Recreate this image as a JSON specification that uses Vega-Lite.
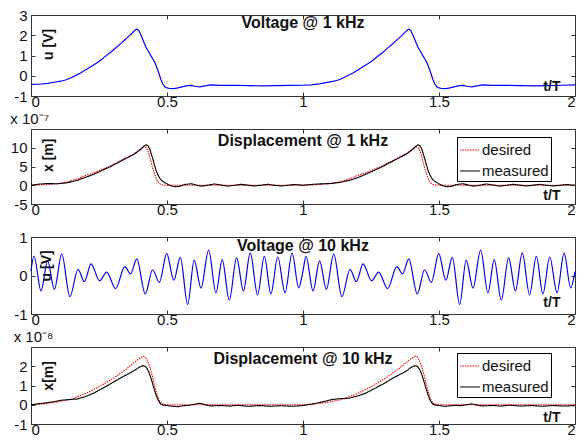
{
  "$schema": "https://vega.github.io/schema/vega-lite/v6.json",
  "padding": {"left": 9, "top": 7, "right": 2, "bottom": 2},
  "background": "#ffffff",
  "config": {
    "view": {"stroke": "#333333", "strokeWidth": 1},
    "font": "Liberation Sans",
    "axis": {"grid": false, "domain": false, "labelFont": "Liberation Sans", "labelFontSize": 15, "labelColor": "#111111", "tickColor": "#333333", "tickSize": -4, "labelPadding": 6},
    "title": {"font": "Liberation Sans", "fontSize": 15, "fontWeight": "normal", "anchor": "start", "color": "#111111", "offset": 2},
    "legend": {"labelFont": "Liberation Sans", "labelFontSize": 15, "labelColor": "#111111"}
  },
  "datasets": {
    "v1": [
      {"t": 0, "u": -0.43}, {"t": 0.03, "u": -0.42}, {"t": 0.06, "u": -0.38}, {"t": 0.09, "u": -0.31}, {"t": 0.11, "u": -0.27}, {"t": 0.13, "u": -0.2}, {"t": 0.147, "u": -0.1}, {"t": 0.165, "u": 0.02}, {"t": 0.184, "u": 0.15}, {"t": 0.2, "u": 0.28}, {"t": 0.22, "u": 0.45}, {"t": 0.24, "u": 0.62}, {"t": 0.257, "u": 0.78}, {"t": 0.275, "u": 0.97}, {"t": 0.294, "u": 1.17}, {"t": 0.31, "u": 1.36}, {"t": 0.331, "u": 1.6}, {"t": 0.345, "u": 1.78}, {"t": 0.362, "u": 1.98}, {"t": 0.375, "u": 2.15}, {"t": 0.385, "u": 2.28}, {"t": 0.39, "u": 2.3}, {"t": 0.396, "u": 2.24}, {"t": 0.404, "u": 2.02}, {"t": 0.413, "u": 1.72}, {"t": 0.423, "u": 1.4}, {"t": 0.432, "u": 1.2}, {"t": 0.441, "u": 0.98}, {"t": 0.449, "u": 0.8}, {"t": 0.455, "u": 0.66}, {"t": 0.462, "u": 0.42}, {"t": 0.47, "u": 0.12}, {"t": 0.478, "u": -0.2}, {"t": 0.485, "u": -0.42}, {"t": 0.492, "u": -0.54}, {"t": 0.5, "u": -0.6}, {"t": 0.51, "u": -0.63}, {"t": 0.525, "u": -0.64}, {"t": 0.54, "u": -0.6}, {"t": 0.555, "u": -0.55}, {"t": 0.575, "u": -0.49}, {"t": 0.59, "u": -0.48}, {"t": 0.605, "u": -0.53}, {"t": 0.62, "u": -0.55}, {"t": 0.64, "u": -0.5}, {"t": 0.66, "u": -0.45}, {"t": 0.68, "u": -0.46}, {"t": 0.7, "u": -0.48}, {"t": 0.75, "u": -0.47}, {"t": 0.8, "u": -0.49}, {"t": 0.85, "u": -0.5}, {"t": 0.9, "u": -0.49}, {"t": 0.95, "u": -0.48}, {"t": 1.0, "u": -0.47},
      {"t": 1.03, "u": -0.45}, {"t": 1.06, "u": -0.4}, {"t": 1.09, "u": -0.33}, {"t": 1.11, "u": -0.28}, {"t": 1.13, "u": -0.21}, {"t": 1.147, "u": -0.11}, {"t": 1.165, "u": 0.01}, {"t": 1.184, "u": 0.14}, {"t": 1.2, "u": 0.27}, {"t": 1.22, "u": 0.44}, {"t": 1.24, "u": 0.61}, {"t": 1.257, "u": 0.77}, {"t": 1.275, "u": 0.96}, {"t": 1.294, "u": 1.16}, {"t": 1.31, "u": 1.35}, {"t": 1.331, "u": 1.59}, {"t": 1.345, "u": 1.77}, {"t": 1.362, "u": 1.97}, {"t": 1.375, "u": 2.14}, {"t": 1.385, "u": 2.27}, {"t": 1.39, "u": 2.3}, {"t": 1.396, "u": 2.23}, {"t": 1.404, "u": 2.01}, {"t": 1.413, "u": 1.72}, {"t": 1.423, "u": 1.4}, {"t": 1.432, "u": 1.2}, {"t": 1.441, "u": 0.98}, {"t": 1.449, "u": 0.8}, {"t": 1.455, "u": 0.66}, {"t": 1.462, "u": 0.42}, {"t": 1.47, "u": 0.12}, {"t": 1.478, "u": -0.2}, {"t": 1.485, "u": -0.42}, {"t": 1.492, "u": -0.54}, {"t": 1.5, "u": -0.6}, {"t": 1.51, "u": -0.63}, {"t": 1.525, "u": -0.64}, {"t": 1.54, "u": -0.6}, {"t": 1.555, "u": -0.55}, {"t": 1.575, "u": -0.49}, {"t": 1.59, "u": -0.48}, {"t": 1.605, "u": -0.53}, {"t": 1.62, "u": -0.55}, {"t": 1.64, "u": -0.5}, {"t": 1.66, "u": -0.45}, {"t": 1.68, "u": -0.46}, {"t": 1.7, "u": -0.48}, {"t": 1.75, "u": -0.47}, {"t": 1.8, "u": -0.49}, {"t": 1.85, "u": -0.5}, {"t": 1.9, "u": -0.49}, {"t": 1.95, "u": -0.47}, {"t": 2.0, "u": -0.45}
    ],
    "a1": [{"t": 1.0, "v": 2.6, "label": "Voltage @ 1 kHz"}],
    "b1": [{"t": 1.915, "v": -0.55, "label": "t/T"}],
    "r1": [{"t": 0.066, "v": 1.55, "label": "u [V]"}],
    "d1": [
      {"t": 0, "x": 0, "s": "desired"}, {"t": 0.05, "x": 0.15, "s": "desired"}, {"t": 0.1, "x": 0.45, "s": "desired"}, {"t": 0.135, "x": 0.9, "s": "desired"}, {"t": 0.17, "x": 1.7, "s": "desired"}, {"t": 0.2, "x": 2.6, "s": "desired"}, {"t": 0.23, "x": 3.3, "s": "desired"}, {"t": 0.257, "x": 4.1, "s": "desired"}, {"t": 0.29, "x": 5.1, "s": "desired"}, {"t": 0.319, "x": 6.2, "s": "desired"}, {"t": 0.35, "x": 7.3, "s": "desired"}, {"t": 0.38, "x": 8.5, "s": "desired"}, {"t": 0.4, "x": 9.5, "s": "desired"}, {"t": 0.414, "x": 10.3, "s": "desired"}, {"t": 0.42, "x": 10.2, "s": "desired"}, {"t": 0.425, "x": 9.9, "s": "desired"}, {"t": 0.43, "x": 9.2, "s": "desired"}, {"t": 0.435, "x": 8.0, "s": "desired"}, {"t": 0.44, "x": 6.6, "s": "desired"}, {"t": 0.447, "x": 4.7, "s": "desired"}, {"t": 0.455, "x": 2.8, "s": "desired"}, {"t": 0.463, "x": 1.3, "s": "desired"}, {"t": 0.47, "x": 0.6, "s": "desired"}, {"t": 0.478, "x": 0.2, "s": "desired"}, {"t": 0.49, "x": 0.03, "s": "desired"}, {"t": 0.5, "x": 0, "s": "desired"}, {"t": 1.0, "x": 0, "s": "desired"},
      {"t": 1.05, "x": 0.15, "s": "desired"}, {"t": 1.1, "x": 0.45, "s": "desired"}, {"t": 1.135, "x": 0.9, "s": "desired"}, {"t": 1.17, "x": 1.7, "s": "desired"}, {"t": 1.2, "x": 2.6, "s": "desired"}, {"t": 1.23, "x": 3.3, "s": "desired"}, {"t": 1.257, "x": 4.1, "s": "desired"}, {"t": 1.29, "x": 5.1, "s": "desired"}, {"t": 1.319, "x": 6.2, "s": "desired"}, {"t": 1.35, "x": 7.3, "s": "desired"}, {"t": 1.38, "x": 8.5, "s": "desired"}, {"t": 1.4, "x": 9.5, "s": "desired"}, {"t": 1.414, "x": 10.3, "s": "desired"}, {"t": 1.42, "x": 10.2, "s": "desired"}, {"t": 1.425, "x": 9.9, "s": "desired"}, {"t": 1.43, "x": 9.2, "s": "desired"}, {"t": 1.435, "x": 8.0, "s": "desired"}, {"t": 1.44, "x": 6.6, "s": "desired"}, {"t": 1.447, "x": 4.7, "s": "desired"}, {"t": 1.455, "x": 2.8, "s": "desired"}, {"t": 1.463, "x": 1.3, "s": "desired"}, {"t": 1.47, "x": 0.6, "s": "desired"}, {"t": 1.478, "x": 0.2, "s": "desired"}, {"t": 1.49, "x": 0.03, "s": "desired"}, {"t": 1.5, "x": 0, "s": "desired"}, {"t": 2.0, "x": 0, "s": "desired"},
      {"t": 0, "x": 0, "s": "measured"}, {"t": 0.03, "x": 0.3, "s": "measured"}, {"t": 0.06, "x": 0.45, "s": "measured"}, {"t": 0.1, "x": 0.4, "s": "measured"}, {"t": 0.135, "x": 0.7, "s": "measured"}, {"t": 0.17, "x": 1.3, "s": "measured"}, {"t": 0.2, "x": 2.1, "s": "measured"}, {"t": 0.23, "x": 2.9, "s": "measured"}, {"t": 0.257, "x": 3.8, "s": "measured"}, {"t": 0.29, "x": 4.9, "s": "measured"}, {"t": 0.319, "x": 6.0, "s": "measured"}, {"t": 0.35, "x": 7.2, "s": "measured"}, {"t": 0.38, "x": 8.3, "s": "measured"}, {"t": 0.404, "x": 9.6, "s": "measured"}, {"t": 0.415, "x": 10.4, "s": "measured"}, {"t": 0.423, "x": 10.8, "s": "measured"}, {"t": 0.43, "x": 10.5, "s": "measured"}, {"t": 0.436, "x": 9.8, "s": "measured"}, {"t": 0.441, "x": 8.6, "s": "measured"}, {"t": 0.448, "x": 7.0, "s": "measured"}, {"t": 0.454, "x": 5.4, "s": "measured"}, {"t": 0.46, "x": 3.9, "s": "measured"}, {"t": 0.467, "x": 2.7, "s": "measured"}, {"t": 0.475, "x": 1.7, "s": "measured"}, {"t": 0.485, "x": 1.0, "s": "measured"}, {"t": 0.496, "x": 0.5, "s": "measured"}, {"t": 0.51, "x": 0.0, "s": "measured"}, {"t": 0.527, "x": -0.4, "s": "measured"}, {"t": 0.545, "x": -0.3, "s": "measured"}, {"t": 0.565, "x": 0.2, "s": "measured"}, {"t": 0.588, "x": 0.4, "s": "measured"}, {"t": 0.61, "x": 0.0, "s": "measured"}, {"t": 0.628, "x": -0.25, "s": "measured"}, {"t": 0.65, "x": 0.0, "s": "measured"}, {"t": 0.674, "x": 0.35, "s": "measured"}, {"t": 0.7, "x": 0.05, "s": "measured"}, {"t": 0.723, "x": -0.25, "s": "measured"}, {"t": 0.75, "x": 0.0, "s": "measured"}, {"t": 0.772, "x": 0.25, "s": "measured"}, {"t": 0.8, "x": 0.0, "s": "measured"}, {"t": 0.82, "x": -0.2, "s": "measured"}, {"t": 0.845, "x": 0.0, "s": "measured"}, {"t": 0.87, "x": 0.25, "s": "measured"}, {"t": 0.895, "x": 0.0, "s": "measured"}, {"t": 0.92, "x": -0.2, "s": "measured"}, {"t": 0.945, "x": 0.0, "s": "measured"}, {"t": 0.968, "x": 0.2, "s": "measured"}, {"t": 1.0, "x": 0.0, "s": "measured"},
      {"t": 1.03, "x": 0.2, "s": "measured"}, {"t": 1.06, "x": 0.35, "s": "measured"}, {"t": 1.1, "x": 0.45, "s": "measured"}, {"t": 1.135, "x": 0.75, "s": "measured"}, {"t": 1.17, "x": 1.3, "s": "measured"}, {"t": 1.2, "x": 2.0, "s": "measured"}, {"t": 1.23, "x": 2.9, "s": "measured"}, {"t": 1.257, "x": 3.8, "s": "measured"}, {"t": 1.29, "x": 4.9, "s": "measured"}, {"t": 1.319, "x": 6.0, "s": "measured"}, {"t": 1.35, "x": 7.2, "s": "measured"}, {"t": 1.38, "x": 8.3, "s": "measured"}, {"t": 1.404, "x": 9.6, "s": "measured"}, {"t": 1.415, "x": 10.4, "s": "measured"}, {"t": 1.423, "x": 10.8, "s": "measured"}, {"t": 1.43, "x": 10.5, "s": "measured"}, {"t": 1.436, "x": 9.8, "s": "measured"}, {"t": 1.441, "x": 8.6, "s": "measured"}, {"t": 1.448, "x": 7.0, "s": "measured"}, {"t": 1.454, "x": 5.4, "s": "measured"}, {"t": 1.46, "x": 3.9, "s": "measured"}, {"t": 1.467, "x": 2.7, "s": "measured"}, {"t": 1.475, "x": 1.7, "s": "measured"}, {"t": 1.485, "x": 1.0, "s": "measured"}, {"t": 1.496, "x": 0.5, "s": "measured"}, {"t": 1.51, "x": 0.0, "s": "measured"}, {"t": 1.527, "x": -0.4, "s": "measured"}, {"t": 1.545, "x": -0.3, "s": "measured"}, {"t": 1.565, "x": 0.2, "s": "measured"}, {"t": 1.588, "x": 0.4, "s": "measured"}, {"t": 1.61, "x": 0.0, "s": "measured"}, {"t": 1.628, "x": -0.25, "s": "measured"}, {"t": 1.65, "x": 0.0, "s": "measured"}, {"t": 1.674, "x": 0.35, "s": "measured"}, {"t": 1.7, "x": 0.05, "s": "measured"}, {"t": 1.723, "x": -0.25, "s": "measured"}, {"t": 1.75, "x": 0.0, "s": "measured"}, {"t": 1.772, "x": 0.25, "s": "measured"}, {"t": 1.8, "x": 0.0, "s": "measured"}, {"t": 1.82, "x": -0.2, "s": "measured"}, {"t": 1.845, "x": 0.0, "s": "measured"}, {"t": 1.87, "x": 0.25, "s": "measured"}, {"t": 1.895, "x": 0.0, "s": "measured"}, {"t": 1.92, "x": -0.2, "s": "measured"}, {"t": 1.945, "x": 0.0, "s": "measured"}, {"t": 1.968, "x": 0.2, "s": "measured"}, {"t": 2.0, "x": 0.0, "s": "measured"}
    ],
    "a2": [{"t": 1.0, "v": 11.9, "label": "Displacement @ 1 kHz"}],
    "b2": [{"t": 1.915, "v": -2.8, "label": "t/T"}],
    "r2": [{"t": 0.066, "v": 8.0, "label": "x [m]"}],
    "v3": [
      {"t": 0, "u": 0.12}, {"t": 0.011, "u": 0.5}, {"t": 0.037, "u": -0.4}, {"t": 0.061, "u": 0.38}, {"t": 0.086, "u": -0.36}, {"t": 0.113, "u": 0.56}, {"t": 0.143, "u": -0.55}, {"t": 0.173, "u": 0.16}, {"t": 0.196, "u": -0.16}, {"t": 0.221, "u": 0.3}, {"t": 0.252, "u": -0.14}, {"t": 0.278, "u": 0.09}, {"t": 0.311, "u": -0.34}, {"t": 0.345, "u": 0.23}, {"t": 0.366, "u": 0.04}, {"t": 0.389, "u": 0.43}, {"t": 0.42, "u": -0.48}, {"t": 0.447, "u": 0.15}, {"t": 0.472, "u": -0.18}, {"t": 0.499, "u": 0.57}, {"t": 0.525, "u": -0.12}, {"t": 0.549, "u": 0.47}, {"t": 0.576, "u": -0.75}, {"t": 0.6, "u": 0.4}, {"t": 0.625, "u": -0.33}, {"t": 0.653, "u": 0.66}, {"t": 0.68, "u": -0.45}, {"t": 0.703, "u": 0.41}, {"t": 0.729, "u": -0.64}, {"t": 0.756, "u": 0.46}, {"t": 0.781, "u": -0.4}, {"t": 0.806, "u": 0.59}, {"t": 0.833, "u": -0.5}, {"t": 0.858, "u": 0.5}, {"t": 0.882, "u": -0.48}, {"t": 0.907, "u": 0.48}, {"t": 0.934, "u": -0.45}, {"t": 0.96, "u": 0.58}, {"t": 0.984, "u": -0.32}, {"t": 1.0, "u": 0.12},
      {"t": 1.011, "u": 0.5}, {"t": 1.037, "u": -0.4}, {"t": 1.061, "u": 0.38}, {"t": 1.086, "u": -0.36}, {"t": 1.113, "u": 0.56}, {"t": 1.143, "u": -0.55}, {"t": 1.173, "u": 0.16}, {"t": 1.196, "u": -0.16}, {"t": 1.221, "u": 0.3}, {"t": 1.252, "u": -0.14}, {"t": 1.278, "u": 0.09}, {"t": 1.311, "u": -0.34}, {"t": 1.345, "u": 0.23}, {"t": 1.366, "u": 0.04}, {"t": 1.389, "u": 0.43}, {"t": 1.42, "u": -0.48}, {"t": 1.447, "u": 0.15}, {"t": 1.472, "u": -0.18}, {"t": 1.499, "u": 0.57}, {"t": 1.525, "u": -0.12}, {"t": 1.549, "u": 0.47}, {"t": 1.576, "u": -0.75}, {"t": 1.6, "u": 0.4}, {"t": 1.625, "u": -0.33}, {"t": 1.653, "u": 0.66}, {"t": 1.68, "u": -0.45}, {"t": 1.703, "u": 0.41}, {"t": 1.729, "u": -0.64}, {"t": 1.756, "u": 0.46}, {"t": 1.781, "u": -0.4}, {"t": 1.806, "u": 0.59}, {"t": 1.833, "u": -0.5}, {"t": 1.858, "u": 0.5}, {"t": 1.882, "u": -0.48}, {"t": 1.907, "u": 0.48}, {"t": 1.934, "u": -0.45}, {"t": 1.96, "u": 0.58}, {"t": 1.984, "u": -0.32}, {"t": 2.0, "u": 0.1}
    ],
    "a3": [{"t": 1.0, "v": 0.77, "label": "Voltage @ 10 kHz"}],
    "b3": [{"t": 1.915, "v": -0.71, "label": "t/T"}],
    "r3": [{"t": 0.06, "v": 0.25, "label": "u [V]"}],
    "d4": [
      {"t": 0, "x": 0, "s": "desired"}, {"t": 0.05, "x": 0.05, "s": "desired"}, {"t": 0.1, "x": 0.15, "s": "desired"}, {"t": 0.15, "x": 0.3, "s": "desired"}, {"t": 0.2, "x": 0.58, "s": "desired"}, {"t": 0.25, "x": 0.93, "s": "desired"}, {"t": 0.3, "x": 1.35, "s": "desired"}, {"t": 0.35, "x": 1.85, "s": "desired"}, {"t": 0.38, "x": 2.2, "s": "desired"}, {"t": 0.4, "x": 2.42, "s": "desired"}, {"t": 0.412, "x": 2.52, "s": "desired"}, {"t": 0.42, "x": 2.48, "s": "desired"}, {"t": 0.428, "x": 2.3, "s": "desired"}, {"t": 0.436, "x": 2.0, "s": "desired"}, {"t": 0.444, "x": 1.6, "s": "desired"}, {"t": 0.452, "x": 1.15, "s": "desired"}, {"t": 0.46, "x": 0.7, "s": "desired"}, {"t": 0.468, "x": 0.33, "s": "desired"}, {"t": 0.476, "x": 0.1, "s": "desired"}, {"t": 0.486, "x": 0.02, "s": "desired"}, {"t": 0.5, "x": 0, "s": "desired"}, {"t": 1.0, "x": 0, "s": "desired"},
      {"t": 1.05, "x": 0.05, "s": "desired"}, {"t": 1.1, "x": 0.15, "s": "desired"}, {"t": 1.15, "x": 0.3, "s": "desired"}, {"t": 1.2, "x": 0.58, "s": "desired"}, {"t": 1.25, "x": 0.93, "s": "desired"}, {"t": 1.3, "x": 1.35, "s": "desired"}, {"t": 1.35, "x": 1.85, "s": "desired"}, {"t": 1.38, "x": 2.2, "s": "desired"}, {"t": 1.4, "x": 2.42, "s": "desired"}, {"t": 1.412, "x": 2.52, "s": "desired"}, {"t": 1.42, "x": 2.48, "s": "desired"}, {"t": 1.428, "x": 2.3, "s": "desired"}, {"t": 1.436, "x": 2.0, "s": "desired"}, {"t": 1.444, "x": 1.6, "s": "desired"}, {"t": 1.452, "x": 1.15, "s": "desired"}, {"t": 1.46, "x": 0.7, "s": "desired"}, {"t": 1.468, "x": 0.33, "s": "desired"}, {"t": 1.476, "x": 0.1, "s": "desired"}, {"t": 1.486, "x": 0.02, "s": "desired"}, {"t": 1.5, "x": 0, "s": "desired"}, {"t": 2.0, "x": 0, "s": "desired"},
      {"t": 0, "x": 0, "s": "measured"}, {"t": 0.04, "x": 0.07, "s": "measured"}, {"t": 0.08, "x": 0.15, "s": "measured"}, {"t": 0.11, "x": 0.23, "s": "measured"}, {"t": 0.14, "x": 0.27, "s": "measured"}, {"t": 0.17, "x": 0.3, "s": "measured"}, {"t": 0.2, "x": 0.42, "s": "measured"}, {"t": 0.23, "x": 0.6, "s": "measured"}, {"t": 0.26, "x": 0.83, "s": "measured"}, {"t": 0.3, "x": 1.15, "s": "measured"}, {"t": 0.33, "x": 1.4, "s": "measured"}, {"t": 0.36, "x": 1.62, "s": "measured"}, {"t": 0.38, "x": 1.78, "s": "measured"}, {"t": 0.395, "x": 1.92, "s": "measured"}, {"t": 0.41, "x": 2.03, "s": "measured"}, {"t": 0.42, "x": 2.0, "s": "measured"}, {"t": 0.428, "x": 1.85, "s": "measured"}, {"t": 0.436, "x": 1.6, "s": "measured"}, {"t": 0.444, "x": 1.25, "s": "measured"}, {"t": 0.452, "x": 0.85, "s": "measured"}, {"t": 0.46, "x": 0.5, "s": "measured"}, {"t": 0.468, "x": 0.22, "s": "measured"}, {"t": 0.476, "x": 0.05, "s": "measured"}, {"t": 0.486, "x": -0.02, "s": "measured"}, {"t": 0.5, "x": -0.04, "s": "measured"}, {"t": 0.52, "x": -0.08, "s": "measured"}, {"t": 0.54, "x": -0.1, "s": "measured"}, {"t": 0.56, "x": -0.05, "s": "measured"}, {"t": 0.58, "x": -0.03, "s": "measured"}, {"t": 0.6, "x": 0.02, "s": "measured"}, {"t": 0.62, "x": 0.08, "s": "measured"}, {"t": 0.64, "x": 0.0, "s": "measured"}, {"t": 0.66, "x": -0.06, "s": "measured"}, {"t": 0.7, "x": -0.04, "s": "measured"}, {"t": 0.73, "x": -0.07, "s": "measured"}, {"t": 0.76, "x": -0.03, "s": "measured"}, {"t": 0.8, "x": -0.08, "s": "measured"}, {"t": 0.84, "x": -0.04, "s": "measured"}, {"t": 0.88, "x": -0.08, "s": "measured"}, {"t": 0.92, "x": -0.05, "s": "measured"}, {"t": 0.96, "x": -0.08, "s": "measured"}, {"t": 1.0, "x": -0.04, "s": "measured"},
      {"t": 1.04, "x": 0.05, "s": "measured"}, {"t": 1.08, "x": 0.18, "s": "measured"}, {"t": 1.11, "x": 0.28, "s": "measured"}, {"t": 1.14, "x": 0.32, "s": "measured"}, {"t": 1.17, "x": 0.34, "s": "measured"}, {"t": 1.2, "x": 0.45, "s": "measured"}, {"t": 1.23, "x": 0.6, "s": "measured"}, {"t": 1.26, "x": 0.82, "s": "measured"}, {"t": 1.3, "x": 1.12, "s": "measured"}, {"t": 1.33, "x": 1.38, "s": "measured"}, {"t": 1.36, "x": 1.6, "s": "measured"}, {"t": 1.38, "x": 1.75, "s": "measured"}, {"t": 1.395, "x": 1.92, "s": "measured"}, {"t": 1.41, "x": 2.03, "s": "measured"}, {"t": 1.42, "x": 2.0, "s": "measured"}, {"t": 1.428, "x": 1.85, "s": "measured"}, {"t": 1.436, "x": 1.6, "s": "measured"}, {"t": 1.444, "x": 1.25, "s": "measured"}, {"t": 1.452, "x": 0.85, "s": "measured"}, {"t": 1.46, "x": 0.5, "s": "measured"}, {"t": 1.468, "x": 0.22, "s": "measured"}, {"t": 1.476, "x": 0.05, "s": "measured"}, {"t": 1.486, "x": -0.02, "s": "measured"}, {"t": 1.5, "x": -0.04, "s": "measured"}, {"t": 1.52, "x": -0.08, "s": "measured"}, {"t": 1.54, "x": -0.06, "s": "measured"}, {"t": 1.56, "x": -0.03, "s": "measured"}, {"t": 1.58, "x": -0.05, "s": "measured"}, {"t": 1.6, "x": 0.0, "s": "measured"}, {"t": 1.62, "x": 0.05, "s": "measured"}, {"t": 1.64, "x": -0.02, "s": "measured"}, {"t": 1.66, "x": -0.06, "s": "measured"}, {"t": 1.7, "x": -0.04, "s": "measured"}, {"t": 1.73, "x": -0.07, "s": "measured"}, {"t": 1.76, "x": -0.02, "s": "measured"}, {"t": 1.8, "x": -0.07, "s": "measured"}, {"t": 1.84, "x": -0.04, "s": "measured"}, {"t": 1.88, "x": -0.08, "s": "measured"}, {"t": 1.92, "x": -0.04, "s": "measured"}, {"t": 1.96, "x": -0.07, "s": "measured"}, {"t": 2.0, "x": -0.04, "s": "measured"}
    ],
    "a4": [{"t": 1.0, "v": 2.4, "label": "Displacement @ 10 kHz"}],
    "b4": [{"t": 1.915, "v": -0.7, "label": "t/T"}],
    "r4": [{"t": 0.066, "v": 1.5, "label": "x[m]"}]
  },
  "bounds": "flush",
  "spacing": 33,
  "resolve": {"legend": {"color": "independent", "strokeDash": "independent"}, "scale": {"color": "independent", "strokeDash": "independent"}},
  "vconcat": [
    {
      "width": 544, "height": 81,
      "layer": [
        {"data": {"name": "v1"}, "mark": {"type": "line", "color": "#0000ff", "strokeWidth": 1.2},
         "encoding": {
           "x": {"field": "t", "type": "quantitative", "scale": {"domain": [0, 2], "nice": false, "zero": false}, "axis": {"orient": "bottom", "title": null, "values": [0, 0.5, 1, 1.5, 2], "labelExpr": "'' + datum.value", "labelPadding": 2}},
           "y": {"field": "u", "type": "quantitative", "scale": {"domain": [-1, 3], "nice": false, "zero": false}, "axis": {"orient": "left", "title": null, "values": [-1, 0, 1, 2, 3], "labelExpr": "'' + datum.value", "labelPadding": 8}}
         }},
        {"data": {"name": "a1"}, "mark": {"type": "text", "font": "Liberation Sans", "fontWeight": "bold", "fontSize": 16, "align": "center", "baseline": "middle", "color": "#111111"},
         "encoding": {
           "x": {"field": "t", "type": "quantitative", "scale": {"domain": [0, 2], "nice": false, "zero": false}, "axis": {"orient": "top", "title": null, "values": [0, 0.5, 1, 1.5, 2], "labels": false}},
           "y": {"field": "v", "type": "quantitative", "scale": {"domain": [-1, 3], "nice": false, "zero": false}, "axis": {"orient": "right", "title": null, "values": [-1, 0, 1, 2, 3], "labels": false}},
           "text": {"field": "label"}
         }},
        {"data": {"name": "b1"}, "mark": {"type": "text", "font": "Liberation Sans", "fontWeight": "bold", "fontSize": 14, "align": "center", "baseline": "middle", "color": "#111111"},
         "encoding": {
           "x": {"field": "t", "type": "quantitative", "scale": {"domain": [0, 2], "nice": false, "zero": false}, "axis": null},
           "y": {"field": "v", "type": "quantitative", "scale": {"domain": [-1, 3], "nice": false, "zero": false}, "axis": null},
           "text": {"field": "label"}
         }},
        {"data": {"name": "r1"}, "mark": {"type": "text", "font": "Liberation Sans", "fontWeight": "bold", "fontSize": 14, "align": "center", "baseline": "middle", "angle": 270, "color": "#111111"},
         "encoding": {
           "x": {"field": "t", "type": "quantitative", "scale": {"domain": [0, 2], "nice": false, "zero": false}, "axis": null},
           "y": {"field": "v", "type": "quantitative", "scale": {"domain": [-1, 3], "nice": false, "zero": false}, "axis": null},
           "text": {"field": "label"}
         }}
      ],
      "resolve": {"axis": {"x": "independent", "y": "independent"}}
    },
    {
      "width": 544, "height": 75,
      "title": {"text": "x 10⁻⁷"},
      "layer": [
        {"data": {"name": "d1"}, "mark": {"type": "line", "strokeWidth": 1.1},
         "encoding": {
           "x": {"field": "t", "type": "quantitative", "scale": {"domain": [0, 2], "nice": false, "zero": false}, "axis": {"orient": "bottom", "title": null, "values": [0, 0.5, 1, 1.5, 2], "labelExpr": "'' + datum.value", "labelPadding": 2}},
           "y": {"field": "x", "type": "quantitative", "scale": {"domain": [-5, 15], "nice": false, "zero": false}, "axis": {"orient": "left", "title": null, "values": [-5, 0, 5, 10], "labelExpr": "'' + datum.value", "labelPadding": 8}},
           "color": {"field": "s", "type": "nominal", "scale": {"domain": ["desired", "measured"], "range": ["#ff0000", "#000000"]},
                     "legend": {"title": null, "orient": "none", "legendX": 426, "legendY": 8, "symbolType": "stroke", "symbolSize": 400, "symbolStrokeWidth": 1.2, "fillColor": "#ffffff", "strokeColor": "#000000", "padding": 2, "rowPadding": 2, "labelOffset": 1, "cornerRadius": 0}},
           "strokeDash": {"field": "s", "type": "nominal", "scale": {"domain": ["desired", "measured"], "range": [[1.5, 1], [1, 0]]},
                     "legend": {"title": null, "orient": "none", "legendX": 426, "legendY": 8, "symbolType": "stroke", "symbolSize": 400, "symbolStrokeWidth": 1.2, "fillColor": "#ffffff", "strokeColor": "#000000", "padding": 2, "rowPadding": 2, "labelOffset": 1, "cornerRadius": 0}}
         }},
        {"data": {"name": "a2"}, "mark": {"type": "text", "font": "Liberation Sans", "fontWeight": "bold", "fontSize": 16, "align": "center", "baseline": "middle", "color": "#111111"},
         "encoding": {
           "x": {"field": "t", "type": "quantitative", "scale": {"domain": [0, 2], "nice": false, "zero": false}, "axis": {"orient": "top", "title": null, "values": [0, 0.5, 1, 1.5, 2], "labels": false}},
           "y": {"field": "v", "type": "quantitative", "scale": {"domain": [-5, 15], "nice": false, "zero": false}, "axis": {"orient": "right", "title": null, "values": [-5, 0, 5, 10], "labels": false}},
           "text": {"field": "label"}
         }},
        {"data": {"name": "b2"}, "mark": {"type": "text", "font": "Liberation Sans", "fontWeight": "bold", "fontSize": 14, "align": "center", "baseline": "middle", "color": "#111111"},
         "encoding": {
           "x": {"field": "t", "type": "quantitative", "scale": {"domain": [0, 2], "nice": false, "zero": false}, "axis": null},
           "y": {"field": "v", "type": "quantitative", "scale": {"domain": [-5, 15], "nice": false, "zero": false}, "axis": null},
           "text": {"field": "label"}
         }},
        {"data": {"name": "r2"}, "mark": {"type": "text", "font": "Liberation Sans", "fontWeight": "bold", "fontSize": 14, "align": "center", "baseline": "middle", "angle": 270, "color": "#111111"},
         "encoding": {
           "x": {"field": "t", "type": "quantitative", "scale": {"domain": [0, 2], "nice": false, "zero": false}, "axis": null},
           "y": {"field": "v", "type": "quantitative", "scale": {"domain": [-5, 15], "nice": false, "zero": false}, "axis": null},
           "text": {"field": "label"}
         }}
      ],
      "resolve": {"axis": {"x": "independent", "y": "independent"}}
    },
    {
      "width": 544, "height": 77,
      "layer": [
        {"data": {"name": "v3"}, "mark": {"type": "line", "color": "#0000ff", "strokeWidth": 1.2, "interpolate": "monotone"},
         "encoding": {
           "x": {"field": "t", "type": "quantitative", "scale": {"domain": [0, 2], "nice": false, "zero": false}, "axis": {"orient": "bottom", "title": null, "values": [0, 0.5, 1, 1.5, 2], "labelExpr": "'' + datum.value", "labelPadding": 2}},
           "y": {"field": "u", "type": "quantitative", "scale": {"domain": [-1, 1], "nice": false, "zero": false}, "axis": {"orient": "left", "title": null, "values": [-1, 0, 1], "labelExpr": "'' + datum.value", "labelPadding": 8}}
         }},
        {"data": {"name": "a3"}, "mark": {"type": "text", "font": "Liberation Sans", "fontWeight": "bold", "fontSize": 16, "align": "center", "baseline": "middle", "color": "#111111"},
         "encoding": {
           "x": {"field": "t", "type": "quantitative", "scale": {"domain": [0, 2], "nice": false, "zero": false}, "axis": {"orient": "top", "title": null, "values": [0, 0.5, 1, 1.5, 2], "labels": false}},
           "y": {"field": "v", "type": "quantitative", "scale": {"domain": [-1, 1], "nice": false, "zero": false}, "axis": {"orient": "right", "title": null, "values": [-1, 0, 1], "labels": false}},
           "text": {"field": "label"}
         }},
        {"data": {"name": "b3"}, "mark": {"type": "text", "font": "Liberation Sans", "fontWeight": "bold", "fontSize": 14, "align": "center", "baseline": "middle", "color": "#111111"},
         "encoding": {
           "x": {"field": "t", "type": "quantitative", "scale": {"domain": [0, 2], "nice": false, "zero": false}, "axis": null},
           "y": {"field": "v", "type": "quantitative", "scale": {"domain": [-1, 1], "nice": false, "zero": false}, "axis": null},
           "text": {"field": "label"}
         }},
        {"data": {"name": "r3"}, "mark": {"type": "text", "font": "Liberation Sans", "fontWeight": "bold", "fontSize": 14, "align": "center", "baseline": "middle", "angle": 270, "color": "#111111"},
         "encoding": {
           "x": {"field": "t", "type": "quantitative", "scale": {"domain": [0, 2], "nice": false, "zero": false}, "axis": null},
           "y": {"field": "v", "type": "quantitative", "scale": {"domain": [-1, 1], "nice": false, "zero": false}, "axis": null},
           "text": {"field": "label"}
         }}
      ],
      "resolve": {"axis": {"x": "independent", "y": "independent"}}
    },
    {
      "width": 544, "height": 77,
      "title": {"text": "x 10⁻⁸"},
      "layer": [
        {"data": {"name": "d4"}, "mark": {"type": "line", "strokeWidth": 1.1},
         "encoding": {
           "x": {"field": "t", "type": "quantitative", "scale": {"domain": [0, 2], "nice": false, "zero": false}, "axis": {"orient": "bottom", "title": null, "values": [0, 0.5, 1, 1.5, 2], "labelExpr": "'' + datum.value", "labelPadding": 2}},
           "y": {"field": "x", "type": "quantitative", "scale": {"domain": [-1, 3], "nice": false, "zero": false}, "axis": {"orient": "left", "title": null, "values": [-1, 0, 1, 2], "labelExpr": "'' + datum.value", "labelPadding": 8}},
           "color": {"field": "s", "type": "nominal", "scale": {"domain": ["desired", "measured"], "range": ["#ff0000", "#000000"]},
                     "legend": {"title": null, "orient": "none", "legendX": 426, "legendY": 6, "symbolType": "stroke", "symbolSize": 400, "symbolStrokeWidth": 1.2, "fillColor": "#ffffff", "strokeColor": "#000000", "padding": 2, "rowPadding": 2, "labelOffset": 1, "cornerRadius": 0}},
           "strokeDash": {"field": "s", "type": "nominal", "scale": {"domain": ["desired", "measured"], "range": [[1.5, 1], [1, 0]]},
                     "legend": {"title": null, "orient": "none", "legendX": 426, "legendY": 6, "symbolType": "stroke", "symbolSize": 400, "symbolStrokeWidth": 1.2, "fillColor": "#ffffff", "strokeColor": "#000000", "padding": 2, "rowPadding": 2, "labelOffset": 1, "cornerRadius": 0}}
         }},
        {"data": {"name": "a4"}, "mark": {"type": "text", "font": "Liberation Sans", "fontWeight": "bold", "fontSize": 16, "align": "center", "baseline": "middle", "color": "#111111"},
         "encoding": {
           "x": {"field": "t", "type": "quantitative", "scale": {"domain": [0, 2], "nice": false, "zero": false}, "axis": {"orient": "top", "title": null, "values": [0, 0.5, 1, 1.5, 2], "labels": false}},
           "y": {"field": "v", "type": "quantitative", "scale": {"domain": [-1, 3], "nice": false, "zero": false}, "axis": {"orient": "right", "title": null, "values": [-1, 0, 1, 2], "labels": false}},
           "text": {"field": "label"}
         }},
        {"data": {"name": "b4"}, "mark": {"type": "text", "font": "Liberation Sans", "fontWeight": "bold", "fontSize": 14, "align": "center", "baseline": "middle", "color": "#111111"},
         "encoding": {
           "x": {"field": "t", "type": "quantitative", "scale": {"domain": [0, 2], "nice": false, "zero": false}, "axis": null},
           "y": {"field": "v", "type": "quantitative", "scale": {"domain": [-1, 3], "nice": false, "zero": false}, "axis": null},
           "text": {"field": "label"}
         }},
        {"data": {"name": "r4"}, "mark": {"type": "text", "font": "Liberation Sans", "fontWeight": "bold", "fontSize": 14, "align": "center", "baseline": "middle", "angle": 270, "color": "#111111"},
         "encoding": {
           "x": {"field": "t", "type": "quantitative", "scale": {"domain": [0, 2], "nice": false, "zero": false}, "axis": null},
           "y": {"field": "v", "type": "quantitative", "scale": {"domain": [-1, 3], "nice": false, "zero": false}, "axis": null},
           "text": {"field": "label"}
         }}
      ],
      "resolve": {"axis": {"x": "independent", "y": "independent"}}
    }
  ]
}
